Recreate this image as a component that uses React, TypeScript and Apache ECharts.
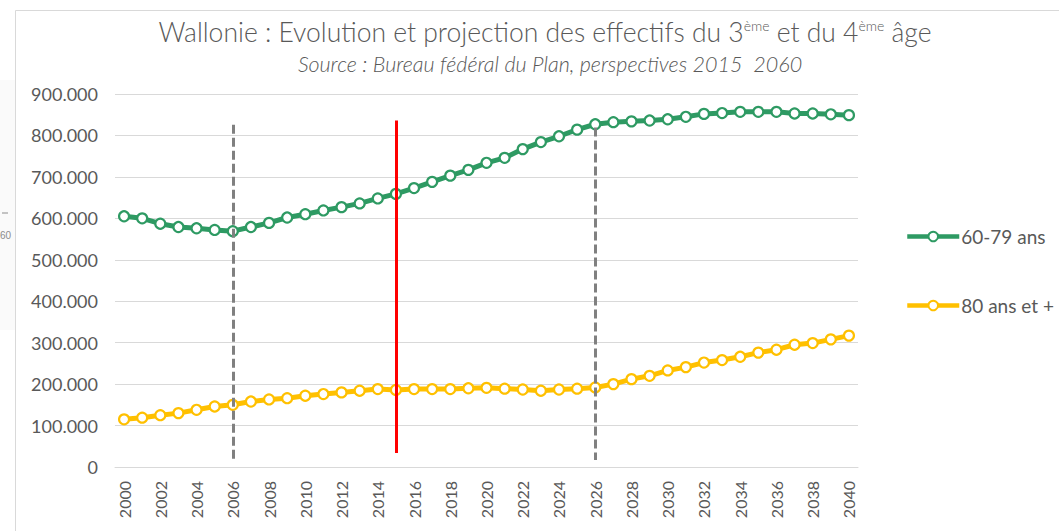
import React, { useEffect, useRef } from "react";
import * as echarts from "echarts";

const years: string[] = [];
for (let y = 2000; y <= 2040; y++) years.push(String(y));

const seniors6079: number[] = [
  605000, 600000, 587000, 579000, 576000, 572000, 569000, 579000, 589000, 602000,
  610000, 619000, 627000, 636000, 648000, 659000, 673000, 688000, 703000, 717000,
  734000, 746000, 767000, 784000, 798000, 814000, 827000, 832000, 834000, 836000,
  839000, 845000, 852000, 854000, 857000, 857000, 857000, 853000, 853000, 851000,
  849000,
];

const seniors80plus: number[] = [
  115000, 119000, 125000, 130000, 138000, 146000, 150000, 158000, 163000, 166000,
  172000, 176000, 180000, 184000, 188000, 186000, 188000, 188000, 188000, 190000,
  191000, 189000, 187000, 184000, 187000, 189000, 192000, 200000, 212000, 220000,
  233000, 241000, 252000, 258000, 266000, 276000, 283000, 295000, 299000, 308000,
  317000,
];

const seriesNames = ["60-79 ans", "80 ans et +"];
const dashedYears = ["2006", "2026"];
const redYear = "2015";

const FONT = "Lato, 'Open Sans', sans-serif";
const TXT = "#595959";

export default function App() {
  const ref = useRef<HTMLDivElement>(null);
  useEffect(() => {
    if (!ref.current) return;
    const chart = echarts.init(ref.current, null, { renderer: "svg" });
    const fmt = (v: number) =>
      v === 0 ? "0" : Math.floor(v / 1000) + "." + String(v % 1000).padStart(3, "0");
    chart.setOption({
      animation: false,
      backgroundColor: "#ffffff",
      title: [
        {
          text: "Wallonie : Evolution et projection des effectifs du 3{s|ème} et du 4{s|ème} âge",
          left: 540,
          textAlign: "center",
          top: 13,
          textStyle: {
            fontFamily: FONT,
            fontSize: 26.5,
            fontWeight: 300,
            color: TXT,
            rich: {
              s: { fontFamily: FONT, fontSize: 14, fontWeight: 300, color: TXT, verticalAlign: "top", padding: [0, 0, 13, 0] },
            },
          },
        },
        {
          text: "Source : Bureau fédéral du Plan, perspectives 2015  2060",
          left: 545,
          textAlign: "center",
          top: 48,
          textStyle: {
            fontFamily: FONT,
            fontSize: 21.5,
            fontStyle: "italic",
            fontWeight: 300,
            color: TXT,
          },
        },
      ],
      legend: {
        orient: "vertical",
        left: 900,
        top: 222,
        itemWidth: 52,
        itemHeight: 12,
        itemGap: 50,
        data: seriesNames,
        lineStyle: { width: 4.5 },
        textStyle: { fontFamily: FONT, fontSize: 19, color: TXT, padding: [0, 0, 0, -3] },
      },
      grid: { left: 115, right: 201, top: 94, bottom: 64, containLabel: false },
      xAxis: {
        type: "category",
        data: years,
        boundaryGap: true,
        axisLine: { lineStyle: { color: "#D9D9D9", width: 1 } },
        axisTick: { show: false },
        axisLabel: {
          interval: 1,
          rotate: 90,
          fontFamily: FONT,
          fontSize: 16,
          color: TXT,
          margin: 14,
        },
      },
      yAxis: {
        type: "value",
        min: 0,
        max: 900000,
        interval: 100000,
        axisLine: { show: false },
        axisTick: { show: false },
        splitLine: { lineStyle: { color: "#D9D9D9", width: 1 } },
        axisLabel: {
          fontFamily: FONT,
          fontSize: 18,
          color: TXT,
          margin: 17,
          formatter: fmt,
        },
      },
      series: [
        {
          name: seriesNames[0],
          type: "line",
          data: seniors6079,
          symbol: "circle",
          symbolSize: 10,
          lineStyle: { color: "#2E9A63", width: 5 },
          itemStyle: { color: "#ffffff", borderColor: "#2E9A63", borderWidth: 2.2 },
          markLine: {
            silent: true,
            symbol: "none",
            label: { show: false },
            data: [
              [
                { coord: [dashedYears[0], 826000] },
                { coord: [dashedYears[0], 17000] },
              ],
              [
                { coord: [dashedYears[1], 819000] },
                { coord: [dashedYears[1], 17000] },
              ],
            ],
            lineStyle: { color: "#808080", width: 3, type: [9, 4] },
          },
        },
        {
          name: seriesNames[1],
          type: "line",
          data: seniors80plus,
          symbol: "circle",
          symbolSize: 10,
          lineStyle: { color: "#FFC000", width: 5 },
          itemStyle: { color: "#ffffff", borderColor: "#FFC000", borderWidth: 2.2 },
          markLine: {
            silent: true,
            symbol: "none",
            label: { show: false },
            data: [
              [
                { coord: [redYear, 836000] },
                { coord: [redYear, 34000] },
              ],
            ],
            lineStyle: { color: "#FF0000", width: 3, type: "solid" },
          },
        },
      ],
      graphic: [
        {
          type: "rect",
          shape: { x: 15.5, y: 10.5, width: 1100, height: 600 },
          style: { fill: "none", stroke: "#D9D9D9", lineWidth: 1 },
          silent: true,
        },
        {
          type: "rect",
          shape: { x: 0, y: 80, width: 15, height: 250 },
          style: { fill: "#FAFAFA" },
          silent: true,
        },
        {
          type: "line",
          shape: { x1: 2, y1: 213, x2: 8, y2: 213 },
          style: { stroke: "#8C8C8C", lineWidth: 1 },
          silent: true,
        },
        {
          type: "text",
          x: 0,
          y: 230,
          style: { text: "60", font: "10px sans-serif", fill: "#8C8C8C" },
          silent: true,
        },
      ],
    });
    return () => chart.dispose();
  }, []);
  return (
    <div
      ref={ref}
      style={{ position: "fixed", left: 0, top: 0, width: 1059, height: 531 }}
    />
  );
}
